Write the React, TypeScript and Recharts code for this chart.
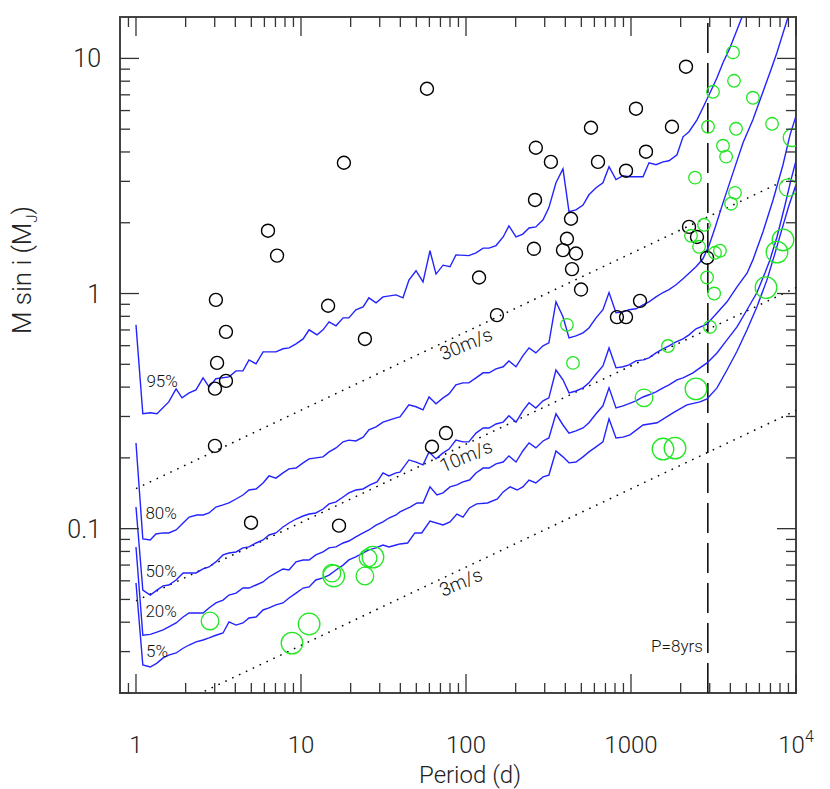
import React from "react";
import {
  ComposedChart,
  Line,
  Scatter,
  XAxis,
  YAxis,
  ReferenceLine,
  ReferenceDot,
  ReferenceArea,
} from "recharts";

// detection-probability curves, [period (d), M sin i (MJ)]
const curve95: [number, number][] = [
  [1, 0.736], [1.1, 0.308], [1.22, 0.311], [1.34, 0.308], [1.58, 0.346], [1.75, 0.393],
  [1.9, 0.36], [2.1, 0.378], [2.31, 0.389], [2.55, 0.438], [2.77, 0.401], [3.05, 0.434],
  [3.66, 0.442], [4.04, 0.469], [4.45, 0.469], [4.84, 0.522], [5.34, 0.502], [5.89, 0.565],
  [7.05, 0.565], [7.78, 0.582], [8.46, 0.587], [9.33, 0.611], [10.3, 0.641], [11.2, 0.701],
  [12.5, 0.667], [13.6, 0.701], [14.8, 0.758], [16.3, 0.729], [18.0, 0.788], [19.5, 0.788],
  [21.5, 0.853], [23.8, 0.878], [25.8, 0.959], [28.5, 0.913], [31.4, 0.968], [37.7, 0.987],
  [41.5, 0.959], [45.1, 1.14], [49.8, 1.25], [54.9, 1.12], [60.5, 1.52], [65.8, 1.21],
  [72.6, 1.32], [80.0, 1.3], [86.9, 1.46], [104, 1.45], [115, 1.49], [127, 1.56],
  [138, 1.56], [152, 1.6], [168, 1.74], [182, 1.94], [201, 1.74], [221, 1.79],
  [241, 1.9], [265, 1.92], [293, 2.06], [318, 2.32], [351, 2.96], [387, 3.39],
  [421, 2.23], [464, 2.27], [512, 2.38], [556, 2.63], [614, 2.82], [676, 2.96],
  [736, 3.46], [811, 3.05], [895, 3.17], [973, 3.14], [1183, 3.14], [1285, 3.6],
  [1418, 3.53], [1564, 3.63], [1700, 3.67], [1900, 3.89], [2067, 4.64], [2247, 4.88],
  [2512, 5.48], [2729, 6.17], [3013, 7.14], [3320, 8.28], [3610, 9.59], [3981, 11.1],
  [4710, 15.0], [5120, 16.9],
];

const curve80: [number, number][] = [
  [1, 0.2315], [1.1, 0.0904], [1.22, 0.0895], [1.32, 0.0949], [1.46, 0.0959], [1.58, 0.0959],
  [1.75, 0.0987], [1.93, 0.1057], [2.1, 0.112], [2.34, 0.1143], [2.55, 0.1143], [2.77, 0.1166],
  [3.05, 0.1236], [3.37, 0.1262], [3.66, 0.1286], [4.04, 0.1337], [4.45, 0.139], [4.84, 0.146],
  [5.34, 0.1475], [5.89, 0.1565], [6.4, 0.1676], [7.05, 0.164], [7.78, 0.1726], [8.46, 0.1795],
  [9.33, 0.181], [10.3, 0.1905], [11.2, 0.198], [13.6, 0.202], [14.8, 0.212], [16.3, 0.2205],
  [18.0, 0.234], [19.5, 0.238], [21.5, 0.236], [23.8, 0.245], [25.8, 0.263], [28.5, 0.271],
  [31.4, 0.284], [37.7, 0.296], [39.8, 0.299], [45.1, 0.336], [49.8, 0.33], [54.9, 0.32],
  [59.7, 0.363], [65.8, 0.34], [72.6, 0.36], [78.9, 0.374], [86.9, 0.409], [95.9, 0.417],
  [104, 0.417], [115, 0.438], [127, 0.46], [138, 0.46], [152, 0.478], [168, 0.488],
  [182, 0.517], [201, 0.488], [221, 0.543], [241, 0.587], [265, 0.559], [293, 0.599],
  [318, 0.617], [351, 0.922], [387, 0.796], [421, 0.648], [464, 0.66], [512, 0.68],
  [556, 0.714], [614, 0.788], [676, 0.853], [736, 1.01], [811, 0.828], [895, 0.836],
  [973, 0.853], [1072, 0.861], [1183, 0.895], [1285, 0.922], [1418, 0.968], [1564, 1.01],
  [1700, 1.04], [1875, 1.09], [2067, 1.155], [2247, 1.22], [2477, 1.3], [2729, 1.405],
  [2972, 1.6], [3228, 1.9], [3610, 2.43], [4150, 3.26], [4775, 4.38], [5480, 5.48],
  [6310, 7.21], [7050, 8.95], [7670, 10.6], [8950, 15.0], [9610, 16.4],
];

const curve50: [number, number][] = [
  [1, 0.1236], [1.1, 0.0548], [1.22, 0.0522], [1.34, 0.0548], [1.46, 0.0571], [1.58, 0.0576],
  [1.75, 0.0605], [1.93, 0.0648], [2.1, 0.0648], [2.31, 0.0648], [2.55, 0.0674], [2.77, 0.0687],
  [3.05, 0.0722], [3.37, 0.0773], [3.66, 0.0788], [4.04, 0.0796], [4.45, 0.0828], [4.84, 0.0836],
  [5.34, 0.0869], [5.89, 0.0895], [6.4, 0.094], [7.05, 0.0959], [7.78, 0.1016], [8.46, 0.1057],
  [9.33, 0.1099], [10.3, 0.1132], [11.2, 0.1154], [12.3, 0.1166], [13.6, 0.1212], [14.8, 0.1274],
  [16.3, 0.13], [18.0, 0.1364], [19.5, 0.142], [21.5, 0.146], [23.8, 0.1475], [26.2, 0.1535],
  [28.9, 0.158], [31.4, 0.1726], [34.1, 0.1676], [37.7, 0.1726], [39.8, 0.174], [45.1, 0.196],
  [49.8, 0.192], [54.9, 0.1867], [59.7, 0.212], [65.8, 0.198], [72.6, 0.21], [78.9, 0.218],
  [86.9, 0.238], [95.9, 0.234], [104, 0.234], [115, 0.255], [127, 0.268], [138, 0.268],
  [152, 0.2787], [168, 0.284], [182, 0.302], [201, 0.284], [221, 0.317], [241, 0.343],
  [265, 0.326], [293, 0.3495], [318, 0.36], [351, 0.473], [387, 0.4295], [421, 0.378],
  [464, 0.385], [512, 0.397], [556, 0.417], [614, 0.455], [676, 0.4925], [736, 0.587],
  [811, 0.483], [895, 0.488], [973, 0.497], [1072, 0.517], [1183, 0.522], [1285, 0.5325],
  [1418, 0.559], [1564, 0.582], [1700, 0.599], [1875, 0.623], [2067, 0.641], [2247, 0.667],
  [2477, 0.708], [2729, 0.729], [2890, 0.743], [3320, 0.827], [3818, 0.922], [4390, 1.068],
  [5050, 1.22], [5480, 1.39], [6310, 1.83], [7260, 2.5], [8340, 3.53], [9200, 4.73],
  [10140, 5.87],
];

const curve20: [number, number][] = [
  [1, 0.0836], [1.1, 0.0352], [1.22, 0.0355], [1.34, 0.0363], [1.46, 0.0371], [1.58, 0.0382],
  [1.75, 0.0397], [1.93, 0.0421], [2.1, 0.0438], [2.31, 0.0438], [2.55, 0.0438], [2.77, 0.046],
  [3.05, 0.0483], [3.37, 0.0497], [3.66, 0.0522], [4.04, 0.0532], [4.45, 0.0559], [4.84, 0.0559],
  [5.34, 0.0576], [5.89, 0.0593], [6.4, 0.0623], [7.05, 0.0648], [7.78, 0.0674], [8.46, 0.0667],
  [9.33, 0.0722], [10.3, 0.0736], [11.2, 0.0736], [12.3, 0.0773], [13.6, 0.0796], [14.8, 0.0828],
  [16.3, 0.0836], [18.0, 0.0869], [19.5, 0.0886], [21.5, 0.0922], [23.8, 0.0959], [25.8, 0.0987],
  [28.5, 0.1035], [31.4, 0.1068], [34.1, 0.111], [37.7, 0.1143], [39.8, 0.1178], [45.8, 0.1236],
  [50.5, 0.1286], [54.9, 0.1286], [60.5, 0.1505], [66.7, 0.139], [72.6, 0.142], [80.0, 0.1505],
  [88.0, 0.1535], [95.9, 0.158], [105, 0.161], [115, 0.1726], [127, 0.181], [138, 0.181],
  [152, 0.1885], [168, 0.192], [182, 0.204], [201, 0.192], [221, 0.214], [241, 0.2315],
  [265, 0.2205], [293, 0.236], [318, 0.243], [351, 0.308], [387, 0.276], [421, 0.255],
  [464, 0.2606], [512, 0.268], [556, 0.282], [614, 0.308], [676, 0.333], [736, 0.397],
  [811, 0.326], [895, 0.333], [973, 0.34], [1072, 0.3495], [1183, 0.363], [1285, 0.371],
  [1418, 0.382], [1564, 0.397], [1700, 0.409], [1900, 0.4295], [2067, 0.438], [2376, 0.46],
  [2618, 0.483], [2890, 0.507], [3320, 0.559], [3818, 0.635], [4390, 0.721], [5050, 0.853],
  [5800, 1.01], [6490, 1.225], [6950, 1.39], [7670, 1.74], [8580, 2.38], [9330, 3.05],
  [10140, 3.81],
];

const curve5: [number, number][] = [
  [1, 0.0587], [1.1, 0.0263], [1.22, 0.0258], [1.34, 0.0268], [1.46, 0.0282], [1.58, 0.029],
  [1.75, 0.0296], [1.93, 0.031], [2.1, 0.032], [2.31, 0.033], [2.55, 0.0336], [2.77, 0.0343],
  [3.05, 0.0352], [3.37, 0.036], [3.66, 0.0401], [4.04, 0.0389], [4.45, 0.0397], [4.84, 0.0417],
  [5.34, 0.0421], [5.89, 0.0451], [6.4, 0.046], [7.05, 0.0474], [7.78, 0.0483], [8.46, 0.0507],
  [9.33, 0.0532], [10.3, 0.0559], [11.2, 0.0565], [12.3, 0.0605], [13.6, 0.0617], [14.8, 0.0635],
  [16.3, 0.0667], [18.0, 0.07], [19.5, 0.0736], [21.5, 0.0758], [23.8, 0.0788], [25.8, 0.0812],
  [28.5, 0.0828], [31.4, 0.0852], [34.1, 0.0836], [37.7, 0.0852], [39.8, 0.0861], [44.3, 0.0869],
  [49.0, 0.0959], [53.9, 0.0959], [60.5, 0.1078], [72.6, 0.1037], [80.0, 0.1068], [88.0, 0.1154],
  [95.9, 0.112], [105, 0.1225], [116, 0.1274], [135, 0.1286], [155, 0.1337], [168, 0.1433],
  [185, 0.1505], [204, 0.146], [221, 0.1505], [241, 0.161], [265, 0.1565], [293, 0.166],
  [318, 0.169], [351, 0.214], [387, 0.202], [421, 0.1905], [464, 0.192], [512, 0.202],
  [556, 0.212], [614, 0.2227], [676, 0.234], [736, 0.293], [811, 0.243], [895, 0.245],
  [986, 0.2505], [1183, 0.276], [1440, 0.282], [1797, 0.311], [2182, 0.336], [2618, 0.346],
  [2890, 0.356], [3320, 0.397], [3818, 0.473], [4390, 0.568], [5050, 0.701], [5800, 0.878],
  [6660, 1.14], [7410, 1.46], [8130, 1.83], [9080, 2.38], [10000, 2.9],
];

// constant radial-velocity amplitude lines (end points)
const k30: [number, number][] = [[1, 0.148], [10000, 3.19]];
const k10: [number, number][] = [[1, 0.0493], [10000, 1.06]];
const k3: [number, number][] = [[1, 0.0148], [10000, 0.318]];

// known planets
const blackPlanets: [number, number][] = [
  [3.05, 0.94], [3.51, 0.687], [3.1, 0.507], [3.51, 0.425], [3.01, 0.394], [3.01, 0.225],
  [6.31, 1.85], [7.16, 1.45], [14.6, 0.887], [24.4, 0.641], [18.2, 3.6], [58.0, 7.43],
  [265, 4.17], [327, 3.63], [631, 3.63], [1233, 4.01], [933, 3.33], [262, 2.5],
  [433, 2.08], [409, 1.71], [387, 1.53], [464, 1.48], [439, 1.27], [498, 1.04],
  [258, 1.55], [120, 1.17], [154, 0.809], [822, 0.794], [933, 0.794], [1134, 0.931],
  [2154, 9.22], [1072, 6.11], [1771, 5.12], [572, 5.07], [2247, 1.92], [2512, 1.74],
  [2890, 1.42], [4.98, 0.106], [17.0, 0.103], [62.2, 0.223], [75.6, 0.255],
];

const greenSmall: [number, number][] = [
  [4150, 10.6], [4210, 8.03], [3140, 7.21], [5480, 6.8], [2930, 5.12], [4330, 5.02],
  [7160, 5.27], [3610, 4.25], [3770, 3.82], [2443, 3.11], [4270, 2.68], [4040, 2.41],
  [2770, 1.96], [2311, 1.76], [2585, 1.58], [3230, 1.49], [3460, 1.52], [2890, 1.17],
  [3190, 1.0], [409, 0.736], [3010, 0.721], [1675, 0.598], [445, 0.507],
];

const greenMedium: [number, number][] = [
  [9460, 4.6], [8950, 2.82], [1199, 0.36], [2.81, 0.0405], [15.4, 0.0647], [24.4, 0.0629],
  [25.5, 0.075],
];

const greenLarge: [number, number][] = [
  [8340, 1.69], [7670, 1.5], [6580, 1.06], [2477, 0.393], [1563, 0.218], [1848, 0.22],
  [8.82, 0.0326], [11.2, 0.0393], [15.8, 0.0629], [27.3, 0.0757],
];

const pctLabels = [
  { text: "95%", p: 1.44, m: 0.425 },
  { text: "80%", p: 1.42, m: 0.1166 },
  { text: "50%", p: 1.42, m: 0.066 },
  { text: "20%", p: 1.42, m: 0.0446 },
  { text: "5%", p: 1.34, m: 0.0301 },
];

const kLabels = [
  { text: "30m/s", p: 100, m: 0.611 },
  { text: "10m/s", p: 100, m: 0.204 },
  { text: "3m/s", p: 93, m: 0.0593 },
];

const xTicks = [
  0.9, 1, 2, 3, 4, 5, 6, 7, 8, 9, 10, 20, 30, 40, 50, 60, 70, 80, 90, 100,
  200, 300, 400, 500, 600, 700, 800, 900, 1000, 2000, 3000, 4000, 5000, 6000,
  7000, 8000, 9000, 10000,
];
const xMajor = [1, 10, 100, 1000, 10000];
const yTicks = [
  0.02, 0.03, 0.04, 0.05, 0.06, 0.07, 0.08, 0.09, 0.1, 0.2, 0.3, 0.4, 0.5, 0.6,
  0.7, 0.8, 0.9, 1, 2, 3, 4, 5, 6, 7, 8, 9, 10,
];
const yMajor = [0.1, 1, 10];

const P_8YRS = 2922;

const FONT = "Roboto, 'Liberation Sans', Arial, sans-serif";
const TOP = 17;
const BOTTOM = 693;
const LEFT = 120;
const RIGHT = 796;
const TICK_COLOR = "#333";
const BLUE = "#2323ff";
const GREEN = "#22e622";

const toPts = (rows: [number, number][]) => rows.map(([p, m]) => ({ p, m }));

function XTick(props: any) {
  const { x, payload } = props;
  const v = payload.value;
  const major = xMajor.includes(v);
  const len = major ? 19 : 10;
  return (
    <g>
      <line x1={x} x2={x} y1={BOTTOM} y2={BOTTOM - len} stroke={TICK_COLOR} strokeWidth={1.3} />
      <line x1={x} x2={x} y1={TOP} y2={TOP + len} stroke={TICK_COLOR} strokeWidth={1.3} />
      {major && (
        <text x={x} y={753} textAnchor="middle" fontSize={24} fontWeight={300} fontFamily={FONT} fill="#222">
          {v === 10000 ? (
            <>
              10<tspan dy={-11} fontSize={16}>4</tspan>
            </>
          ) : (
            String(v)
          )}
        </text>
      )}
    </g>
  );
}

function YTick(props: any) {
  const { y, payload } = props;
  const v = payload.value;
  const major = yMajor.includes(v);
  const len = major ? 19 : 10;
  return (
    <g>
      <line x1={LEFT} x2={LEFT + len} y1={y} y2={y} stroke={TICK_COLOR} strokeWidth={1.3} />
      <line x1={RIGHT} x2={RIGHT - len} y1={y} y2={y} stroke={TICK_COLOR} strokeWidth={1.3} />
      {major && (
        <text x={101} y={y + 9} textAnchor="end" fontSize={25} fontWeight={300} fontFamily={FONT} fill="#222">
          {String(v)}
        </text>
      )}
    </g>
  );
}

const YTitle = () => (
  <text
    x={31}
    y={270}
    transform="rotate(-90 31 270)"
    textAnchor="middle"
    fontSize={26}
    fontWeight={300}
    fontFamily={FONT}
    fill="#222"
  >
    M sin i (M<tspan dy={6} fontSize={15}>J</tspan>
    <tspan dy={-6}>)</tspan>
  </text>
);

const XTitle = () => (
  <text x={470} y={783} textAnchor="middle" fontSize={24} fontWeight={300} fontFamily={FONT} fill="#222">
    Period (d)
  </text>
);

const ringShape = (r: number, color: string, w: number) => (props: any) =>
  <circle cx={props.cx} cy={props.cy} r={r} fill="none" stroke={color} strokeWidth={w} />;

const labelStyle = { fill: "#111", fontFamily: FONT, fontWeight: 300 };

export default function App() {
  const curves = [curve95, curve80, curve50, curve20, curve5];
  const kLines = [k30, k10, k3];
  return (
    <div style={{ width: 830, height: 789 }}>
      <style>{"body{margin:0;background:#fff}"}</style>
      <ComposedChart width={830} height={789} margin={{ top: TOP, right: 830 - RIGHT, bottom: 0, left: 0 }}>
        <XAxis
          dataKey="p"
          type="number"
          scale="log"
          domain={[0.8, 10000]}
          allowDataOverflow
          ticks={xTicks}
          interval={0}
          height={789 - BOTTOM}
          axisLine={false}
          tickLine={false}
          tick={XTick}
          label={{ content: XTitle }}
        />
        <YAxis
          dataKey="m"
          type="number"
          scale="log"
          domain={[0.02, 15]}
          allowDataOverflow
          ticks={yTicks}
          interval={0}
          width={LEFT}
          axisLine={false}
          tickLine={false}
          tick={YTick}
          label={{ content: YTitle }}
        />
        <ReferenceArea
          x1={0.8}
          x2={10000}
          y1={0.02}
          y2={15}
          fill="none"
          fillOpacity={0}
          stroke="#444"
          strokeWidth={2}
          ifOverflow="visible"
        />
        {kLines.map((k, i) => (
          <Line
            key={`k${i}`}
            data={toPts(k)}
            dataKey="m"
            type="linear"
            stroke="#000"
            strokeWidth={1.5}
            strokeDasharray="1.6 6"
            dot={false}
            activeDot={false}
            isAnimationActive={false}
          />
        ))}
        <ReferenceLine x={P_8YRS} stroke="#000" strokeWidth={1.5} strokeDasharray="30 10" />
        {curves.map((c, i) => (
          <Line
            key={`c${i}`}
            data={toPts(c)}
            dataKey="m"
            type="linear"
            stroke={BLUE}
            strokeWidth={1.4}
            dot={false}
            activeDot={false}
            isAnimationActive={false}
          />
        ))}
        <Scatter data={toPts(blackPlanets)} shape={ringShape(6.5, "#000", 1.4)} isAnimationActive={false} />
        <Scatter data={toPts(greenSmall)} shape={ringShape(6.3, GREEN, 1.3)} isAnimationActive={false} />
        <Scatter data={toPts(greenMedium)} shape={ringShape(8.8, GREEN, 1.3)} isAnimationActive={false} />
        <Scatter data={toPts(greenLarge)} shape={ringShape(10.8, GREEN, 1.3)} isAnimationActive={false} />
        {pctLabels.map((l) => (
          <ReferenceDot
            key={l.text}
            x={l.p}
            y={l.m}
            r={0}
            fill="none"
            stroke="none"
            label={{ value: l.text, position: "center", fontSize: 17, ...labelStyle }}
          />
        ))}
        {kLabels.map((l) => (
          <ReferenceDot
            key={l.text}
            x={l.p}
            y={l.m}
            r={0}
            fill="none"
            stroke="none"
            label={{ value: l.text, position: "center", angle: -23, fontSize: 19, ...labelStyle }}
          />
        ))}
        <ReferenceDot
          x={P_8YRS}
          y={0.0317}
          r={0}
          fill="none"
          stroke="none"
          label={{ value: "P=8yrs", position: "left", offset: 5, fontSize: 17, ...labelStyle }}
        />
      </ComposedChart>
    </div>
  );
}
